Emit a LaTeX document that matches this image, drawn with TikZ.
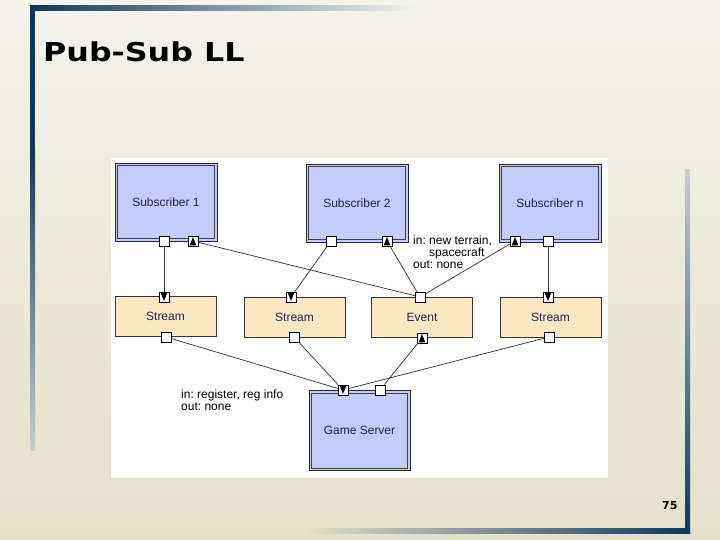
\documentclass[tikz,border=0pt]{standalone}
\usepackage{fontspec}
\setmainfont{Liberation Sans}
\newfontfamily\titlefont{DejaVu Sans}
\definecolor{navy}{RGB}{14,55,92}
\definecolor{bgtop}{RGB}{244,243,236}
\definecolor{bgbot}{RGB}{228,224,202}
\definecolor{fadegray}{RGB}{200,205,206}
\definecolor{subfill}{RGB}{197,203,250}
\definecolor{strfill}{RGB}{253,232,196}
\definecolor{txtnavy}{RGB}{35,35,75}
\tikzset{
  subbox/.style={draw=black!85, line width=0.9pt, fill=subfill,
    minimum width=102, minimum height=78, inner sep=0,
    font=\fontsize{12}{14}\selectfont, text=txtnavy},
  innerline/.style={draw=black!75, line width=0.7pt},
  strbox/.style={draw=black!80, line width=0.7pt, fill=strfill, minimum width=101,
    minimum height=40, inner sep=0, font=\fontsize{12}{14}\selectfont, text=txtnavy},
  port/.style={draw=black, line width=0.6pt, fill=white, minimum size=10, inner sep=0},
  conn/.style={draw=black!80, line width=0.7pt},
  lbl/.style={align=left, inner sep=0, font=\fontsize{12}{12.3}\selectfont, text=black},
}
\newcommand\innerframe[1]{\draw[innerline] ([shift={(3,3)}]#1.north west) rectangle ([shift={(-3,-3)}]#1.south east);}
\newcommand\upmark[1]{\fill[shift={(#1.center)}] (-3.3,4.3) -- (3.3,4.3) -- (0,-3.9) -- cycle;}
\newcommand\downmark[1]{\fill[shift={(#1.center)}] (-3.3,-4.3) -- (3.3,-4.3) -- (0,3.9) -- cycle;}
\frenchspacing
\begin{document}
\begin{tikzpicture}[x=1pt, y=-1pt]
% background
\shade[top color=bgtop, bottom color=bgbot] (0,0) rectangle (720,540);
\useasboundingbox (0,0) rectangle (720,540);
% frame bars
\shade[left color=navy, right color=bgtop] (30,6) rectangle (414,11);
\fill[navy] (30,6) rectangle (35,150);
\shade[top color=navy, bottom color=fadegray] (30,150) rectangle (35,450);
\shade[top color=fadegray, bottom color=navy] (685,170) rectangle (690,533);
\shade[left color=bgbot, right color=navy] (305,528) rectangle (690,533);
% title and page number
\node[anchor=base west, inner sep=0] (title) at (43,62)
  {\scalebox{1.22}[1]{\titlefont\bfseries\fontsize{26}{30}\selectfont Pub-Sub LL}};
\node[anchor=base west, inner sep=0] (pnum) at (662,509)
  {\titlefont\bfseries\fontsize{11}{13}\selectfont 75};
% white panel
\fill[white] (111,158) rectangle (608,478);
% main boxes
\node[subbox] (sub1) at (166,202) {Subscriber 1};
\node[subbox] (sub2) at (357,203) {Subscriber 2};
\node[subbox] (subn) at (550,203) {Subscriber n};
\node[strbox] (st1) at (165.5,316.5) {Stream};
\node[strbox] (st2) at (294.5,317) {Stream};
\node[strbox] (ev) at (422,317.5) {Event};
\node[strbox] (st4) at (550.5,317) {Stream};
\node[subbox, minimum width=101, minimum height=80] (gs) at (359.5,430.5) {Game Server};
\innerframe{sub1}
\innerframe{sub2}
\innerframe{subn}
\innerframe{gs}
% ports
\node[port] (s1a) at (164,241) {};
\node[port] (s1b) at (193,241) {};
\node[port] (s2a) at (331,241) {};
\node[port] (s2b) at (387,241) {};
\node[port] (sna) at (515,241) {};
\node[port] (snb) at (548,241) {};
\node[port] (st1in) at (164,297) {};
\node[port] (st1out) at (166,337) {};
\node[port] (st2in) at (291,297) {};
\node[port] (st2out) at (294,337) {};
\node[port] (evin) at (420,297) {};
\node[port] (evout) at (422,338) {};
\node[port] (st4in) at (548,297) {};
\node[port] (st4out) at (549,337) {};
\node[port] (gsin) at (343,390) {};
\node[port] (gsb) at (380,390) {};
\upmark{s1b}
\upmark{s2b}
\upmark{sna}
\upmark{evout}
\downmark{st1in}
\downmark{st2in}
\downmark{st4in}
\downmark{gsin}
% connectors
\draw[conn] (s1a) -- (st1in);
\draw[conn] (s1b) -- (evin);
\draw[conn] (s2a) -- (st2in);
\draw[conn] (s2b) -- (evin);
\draw[conn] (sna) -- (evin);
\draw[conn] (snb) -- (st4in);
\draw[conn] (st1out) -- (gsin);
\draw[conn] (st2out) -- (gsin);
\draw[conn] (st4out) -- (gsin);
\draw[conn] (evout) -- (gsb);
% labels
\node[lbl, anchor=base west] (lab1) at (413,268.6)
  {in: new terrain,\\\hspace*{16pt}spacecraft\\out: none};
\node[lbl, anchor=base west] (lab2) at (181,410.3)
  {in: register, reg info\\out: none};
\end{tikzpicture}
\end{document}
